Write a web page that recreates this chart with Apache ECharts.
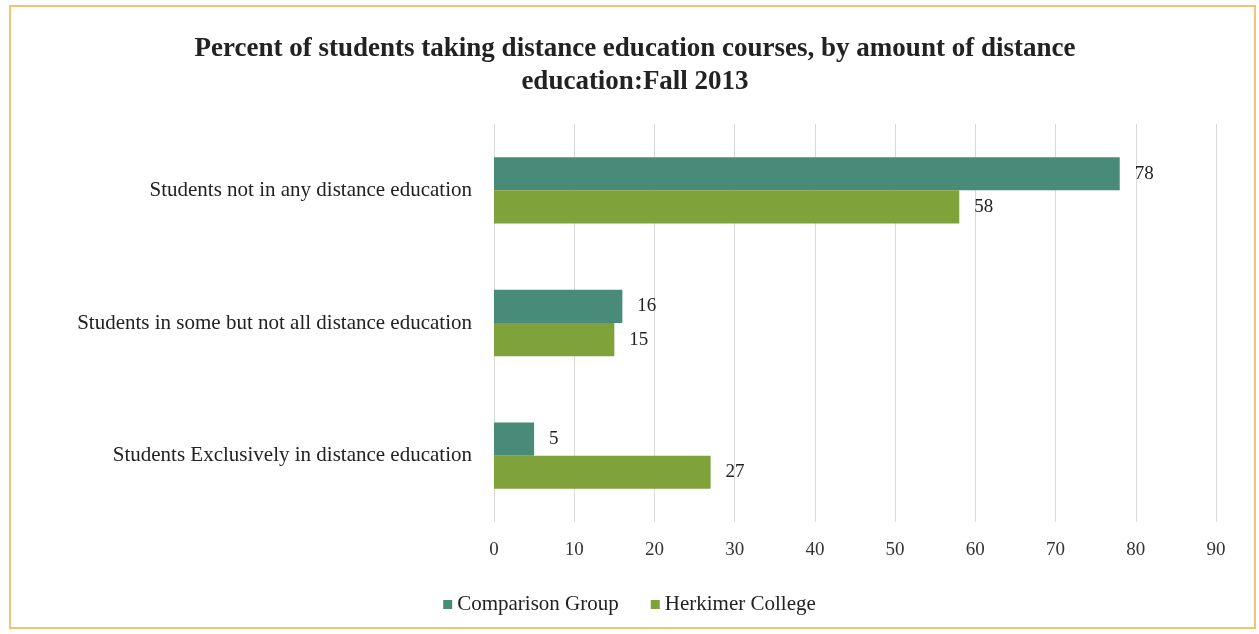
<!DOCTYPE html>
<html lang="en">
<head>
    <meta charset="UTF-8">
    <title>Distance education</title>
    <style>
        html,body{
            margin:0;
            padding:0;
            background:#fff;
        }
        #chartbox{
            width:1259px;
            height:634px;
        }
    </style>
</head>
<body>
  <div id="chartbox"></div>
<script src="https://cdn.jsdelivr.net/npm/echarts@6/dist/echarts.min.js"></script>
<script>
    var categories = [
        'Students Exclusively in distance education',
        'Students in some but not all distance education',
        'Students not in any distance education'
    ];
    var comparisonGroup = [5, 16, 78];
    var herkimerCollege = [27, 15, 58];
    var xTicks = [0, 10, 20, 30, 40, 50, 60, 70, 80, 90];

    var serifFont = '"Liberation Serif", "DejaVu Serif", serif',
        textColor = '#222',
        colors = ['#488b79', '#7fa23b'];

    var barLabel = {
        show: true,
        position: 'right',
        distance: 15,
        color: textColor,
        fontFamily: serifFont,
        fontSize: 19
    };

    var option = {
        backgroundColor: '#fff',
        color: colors,
        animation: false,
        title: {
            text: 'Percent of students taking distance education courses, by amount of distance\neducation:Fall 2013',
            left: 630,
            textAlign: 'center',
            top: 28,
            textStyle: {
                fontFamily: serifFont,
                fontSize: 27,
                fontWeight: 'bold',
                color: textColor,
                lineHeight: 33
            }
        },
        graphic: [{
            type: 'rect',
            shape: {x: 10, y: 6, width: 1245, height: 622},
            style: {fill: 'none', stroke: '#f3c272', lineWidth: 2}
        }],
        legend: {
            top: 589,
            left: 'center',
            itemWidth: 9,
            itemHeight: 9,
            itemGap: 32,
            icon: 'rect',
            textStyle: {
                fontFamily: serifFont,
                fontSize: 21,
                color: textColor
            },
            data: ['Comparison Group', 'Herkimer College']
        },
        grid: {
            left: 494,
            right: 43,
            top: 124,
            bottom: 112
        },
        xAxis: {
            type: 'value',
            min: xTicks[0],
            max: xTicks[xTicks.length - 1],
            interval: 10,
            axisLine: {show: false},
            axisTick: {show: false},
            axisLabel: {
                margin: 19,
                fontFamily: serifFont,
                fontSize: 19,
                color: '#333'
            },
            splitLine: {
                show: true,
                lineStyle: {color: '#d9d9d9', width: 1}
            }
        },
        yAxis: {
            type: 'category',
            data: categories,
            axisLine: {show: false},
            axisTick: {show: false},
            axisLabel: {
                margin: 22,
                fontFamily: serifFont,
                fontSize: 21,
                color: textColor
            }
        },
        series: [
            {
                name: 'Comparison Group',
                type: 'bar',
                data: comparisonGroup,
                barGap: '0%',
                barCategoryGap: '50%',
                itemStyle: {color: colors[0]},
                label: barLabel
            },
            {
                name: 'Herkimer College',
                type: 'bar',
                data: herkimerCollege,
                itemStyle: {color: colors[1]},
                label: barLabel
            }
        ]
    };

    var chart = echarts.init(document.getElementById('chartbox'));
    chart.setOption(option);
</script>
</body>
</html>
